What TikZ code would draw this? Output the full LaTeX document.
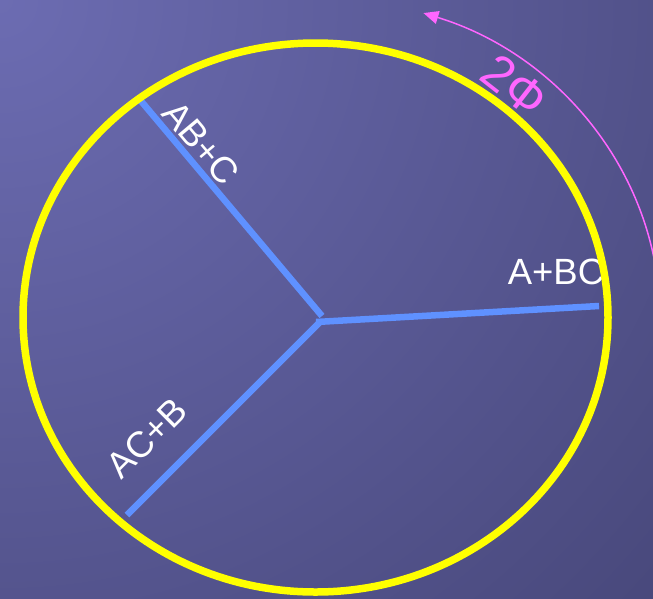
\documentclass[tikz,border=0pt]{standalone}
\usepackage{fontspec}
\setmainfont{Liberation Sans}
\usetikzlibrary{arrows.meta,calc}
\definecolor{bgA}{RGB}{108,108,178}
\definecolor{bgB}{RGB}{70,70,120}
\definecolor{ring}{RGB}{255,255,0}
\definecolor{spoke}{RGB}{95,145,255}
\definecolor{mag}{RGB}{255,102,255}
\tikzset{
  spokeline/.style={draw=spoke, line width=6.5pt},
  lbl/.style={text=white, font=\fontsize{36.5}{40}\selectfont, inner sep=0pt},
  anglelbl/.style={text=mag, font=\fontsize{50}{54}\selectfont, inner sep=0pt},
}
\begin{document}
\begin{tikzpicture}[x=1pt,y=-1pt]
\useasboundingbox (0,0) rectangle (653,598);
\begin{scope}
\clip (0,0) rectangle (653,598);
\fill[bgB] (0,0) rectangle (653,598);
\shade[inner color=bgA, outer color=bgB] (0,0) circle (950);
\end{scope}
% centre and spoke ends
\coordinate (c) at (320,322);
\coordinate (c1) at (322,316);
\coordinate (e1) at (141,101);
\coordinate (e2) at (127,515);
\coordinate (e3) at (599,306);
\draw[spokeline] (c1) -- (e1);
\draw[spokeline] (c) -- (e2);
\draw[spokeline] ([xshift=-4pt]c) -- (e3);
% labels
\node[lbl, rotate=-50] (l1) at (201,143) {AB+C};
\node[lbl, rotate=45] (l2) at (147,438) {AC+B};
\node[lbl] (l3) at (556,272) {A+BC};
% ring
\draw[ring, line width=7.5pt] (315.5,317.5) ellipse [x radius=292.5, y radius=274.5];
% angle arrow
\begin{scope}
\clip (0,0) rectangle (653,598);
\coordinate (o) at (316,318);
\draw[mag, line width=1.5pt, -{Triangle[length=15pt,width=13pt]}]
  ($(o)+(-5:344 and 321)$) arc[start angle=-5, end angle=-71.8, x radius=344, y radius=321];
\end{scope}
\node[anglelbl, rotate=-38] (phi) at (515,86) {2Φ};
\end{tikzpicture}
\end{document}
